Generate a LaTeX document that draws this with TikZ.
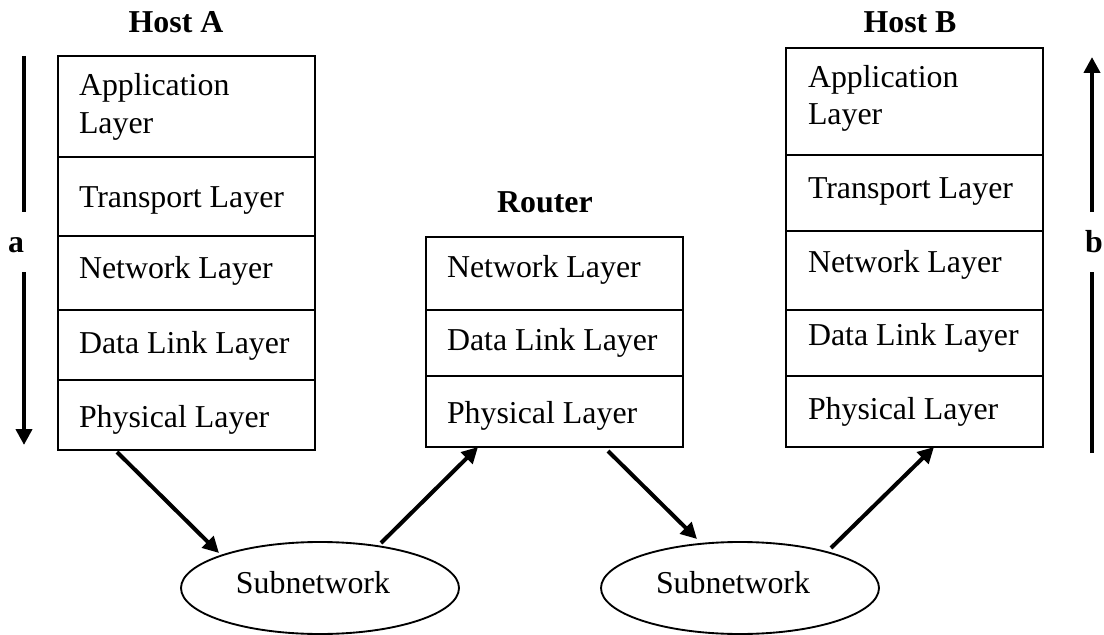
\documentclass[tikz,border=0pt]{standalone}
\usepackage{fontspec}
\setmainfont{Liberation Serif}
\usetikzlibrary{arrows.meta,shapes.geometric,calc}
\begin{document}
\begin{tikzpicture}[x=0.75pt,y=-0.75pt,
  every node/.style={inner sep=0pt, outer sep=0pt},
  layer/.style={draw, line width=1.5pt, minimum width=257*0.75pt},
  txt/.style={anchor=base west, font=\fontsize{23.9}{28}\selectfont},
  title/.style={anchor=base, font=\fontsize{23.9}{28}\selectfont\bfseries},
  net/.style={draw, ellipse, line width=1.4pt, minimum width=278*0.75pt, minimum height=92*0.75pt},
  link/.style={line width=3pt, -{Triangle[length=12pt,width=12pt]}},
  flow/.style={line width=3.2pt},
  tip/.style={-{Triangle[length=12pt,width=12pt]}}
]
\useasboundingbox (0,0) rectangle (1104,635);

% Host A stack
\node[title] (hostA) at (176,33) {Host A};
\node[layer, minimum height=101*0.75pt] (a1) at (186.5,106.5) {};
\node[layer, minimum height=79*0.75pt]  (a2) at (186.5,196.5) {};
\node[layer, minimum height=74*0.75pt]  (a3) at (186.5,273) {};
\node[layer, minimum height=70*0.75pt]  (a4) at (186.5,345) {};
\node[layer, minimum height=70*0.75pt]  (a5) at (186.5,415) {};
\node[txt] (ta1) at (79,96)  {Application};
\node[txt] (ta1b) at (79,133) {Layer};
\node[txt] (ta2) at (79,207) {Transport Layer};
\node[txt] (ta3) at (79,278) {Network Layer};
\node[txt] (ta4) at (79,353) {Data Link Layer};
\node[txt] (ta5) at (79,427) {Physical Layer};

% Router stack
\node[title] (router) at (545,212) {Router};
\node[layer, minimum height=73*0.75pt] (r1) at (554.5,273.5) {};
\node[layer, minimum height=66*0.75pt] (r2) at (554.5,343) {};
\node[layer, minimum height=71*0.75pt] (r3) at (554.5,411.5) {};
\node[txt] (tr1) at (447,277) {Network Layer};
\node[txt] (tr2) at (447,350) {Data Link Layer};
\node[txt] (tr3) at (447,423) {Physical Layer};

% Host B stack
\node[title] (hostB) at (910,33) {Host B};
\node[layer, minimum height=107*0.75pt] (b1) at (914.5,101.5) {};
\node[layer, minimum height=76*0.75pt]  (b2) at (914.5,193) {};
\node[layer, minimum height=79*0.75pt]  (b3) at (914.5,270.5) {};
\node[layer, minimum height=66*0.75pt]  (b4) at (914.5,343) {};
\node[layer, minimum height=71*0.75pt]  (b5) at (914.5,411.5) {};
\node[txt] (tb1) at (808,88)  {Application};
\node[txt] (tb1b) at (808,125) {Layer};
\node[txt] (tb2) at (808,199) {Transport Layer};
\node[txt] (tb3) at (808,272) {Network Layer};
\node[txt] (tb4) at (808,345) {Data Link Layer};
\node[txt] (tb5) at (808,419) {Physical Layer};

% Subnetworks
\node[net] (s1) at (320,588) {};
\node[net] (s2) at (740,588) {};
\node[txt, anchor=base] (ts1) at (313,593) {Subnetwork};
\node[txt, anchor=base] (ts2) at (733,593) {Subnetwork};

% Hops between the stacks and the subnetworks
\draw[link] ($(a5.south west)+(59,2)$) -- ($(s1.center)+(-101,-35)$);
\draw[link] ($(s1.center)+(61,-45)$) -- ($(r3.south west)+(52,0)$);
\draw[link] ($(r3.south west)+(182,4)$) -- ($(s2.center)+(-43,-49)$);
\draw[link] ($(s2.center)+(91,-40)$) -- ($(b5.south west)+(148,0)$);

% Direction of travel: down through A, up through B
\node[title] (la) at (16,252) {a};
\coordinate (aTop) at (24,56);
\coordinate (aUp) at (24,212);
\coordinate (aLow) at (24,272);
\coordinate (aEnd) at (24,445);
\draw[flow] (aTop) -- (aUp);
\draw[flow, tip] (aLow) -- (aEnd);

\node[title] (lb) at (1094,252) {b};
\coordinate (bBot) at (1092,453);
\coordinate (bLow) at (1092,272);
\coordinate (bUp) at (1092,212);
\coordinate (bEnd) at (1092,57);
\draw[flow] (bBot) -- (bLow);
\draw[flow, tip] (bUp) -- (bEnd);
\end{tikzpicture}
\end{document}
